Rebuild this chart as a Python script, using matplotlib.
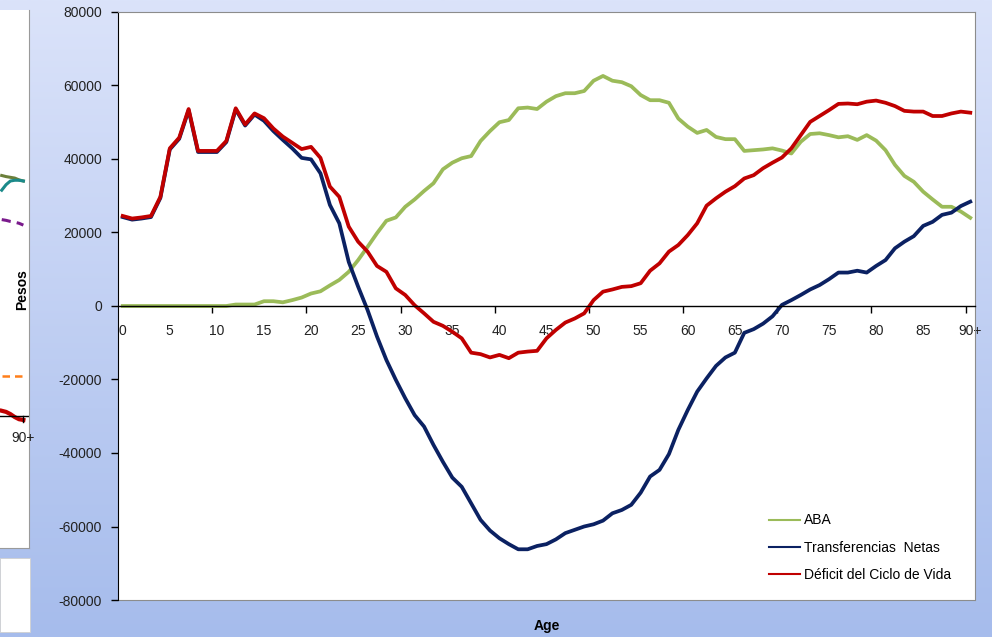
import numpy as np
import matplotlib
matplotlib.use("Agg")
from matplotlib import pyplot as plt
from matplotlib.colors import LinearSegmentedColormap
from matplotlib.lines import Line2D
from matplotlib.patches import Rectangle

plt.rcParams['font.family'] = ['Liberation Sans', 'DejaVu Sans']
plt.rcParams['axes.unicode_minus'] = False

ages = list(range(91))
age_labels = [str(a) for a in range(0, 90, 5)] + ['90+']

aba = [0, 0, 0, 0, 0, 0, 0, 0, 0, 0, 0, 0,
       400, 400, 400, 1300, 1300, 1000, 1600, 2300, 3400, 4000,
       5600, 7100, 9300, 12500, 16100, 19800, 23200, 24100, 27000, 29000,
       31300, 33400, 37200, 39000, 40200, 40800, 44900, 47600, 50000, 50600,
       53800, 54000, 53600, 55600, 57100, 57900, 57900, 58500, 61300, 62600,
       61300, 60900, 59800, 57400, 56000, 56000, 55300, 51000, 48800, 47100,
       47900, 46000, 45400, 45400, 42200, 42400, 42600, 42900, 42300, 41500,
       44700, 46800, 47000, 46500, 45900, 46200, 45200, 46500, 45000, 42400,
       38400, 35400, 33800, 31100, 29000, 27000, 27000, 25700, 24000]

transferencias = [24200, 23500, 23800, 24200, 29400, 42600, 45500, 53300, 41900, 41900,
                  41900, 44600, 53500, 49100, 52100, 50400, 47600, 45200, 42900, 40300,
                  39900, 36100, 27500, 22500, 12000, 5250, -1100, -8300, -14700, -20100,
                  -25100, -29700, -32800, -37800, -42400, -46700, -49200, -53700, -58200, -61100,
                  -63200, -64800, -66200, -66200, -65300, -64800, -63500, -61800, -60900, -60000,
                  -59400, -58400, -56400, -55500, -54100, -50800, -46400, -44600, -40300, -33700,
                  -28300, -23300, -19700, -16300, -14000, -12700, -7300, -6300, -4800, -2800,
                  300, 1600, 3000, 4500, 5700, 7300, 9100, 9100, 9600, 9100,
                  10900, 12500, 15700, 17500, 19000, 21800, 22900, 24800, 25400, 27200,
                  28400]

deficit = [24500, 23800, 24100, 24500, 29700, 42900, 45800, 53600, 42200, 42200,
           42200, 44900, 53800, 49400, 52400, 51100, 48300, 46100, 44400, 42700,
           43300, 40300, 32500, 29700, 21600, 17500, 14800, 10900, 9300, 4800,
           3000, 200, -2000, -4300, -5400, -7000, -8800, -12700, -13100, -14000,
           -13300, -14200, -12700, -12400, -12200, -8800, -6500, -4500, -3400, -2000,
           1600, 3900, 4500, 5200, 5400, 6200, 9600, 11600, 14800, 16600,
           19300, 22500, 27300, 29300, 31100, 32600, 34700, 35600, 37500, 39000,
           40400, 42900, 46500, 50100, 51700, 53300, 55000, 55100, 54900, 55600,
           55900, 55300, 54400, 53100, 52900, 52900, 51700, 51700, 52400, 52900,
           52600]

# cut-off neighbour chart on the left edge
left_ages = [85, 86, 87, 88, 89, 90]
left_olive = [35500, 35200, 35000, 34800, 34300, 34000]
left_teal = [31500, 33000, 34000, 34200, 34200, 34000]
left_purple = [23500, 23300, 23000, 22800, 22500, 22000]
left_orange = [-19000, -19000, -19000, -19000, -19000, -19000]
left_red = [-28500, -28800, -29400, -30200, -30800, -31000]

green = '#9bbb59'
navy = '#0b2162'
red = '#c00000'

W, H = 992, 637
fig = plt.figure(figsize=(W / 100, H / 100), dpi=100)

# background gradient
bg = fig.add_axes([0, 0, 1, 1], zorder=-10)
cmap = LinearSegmentedColormap.from_list('bg', ['#a6bcec', '#dbe3fa'])
bg.imshow(np.linspace(0, 1, 256).reshape(-1, 1), cmap=cmap, aspect='auto',
          extent=[0, 1, 0, 1], origin='lower')
bg.axis('off')

# main chart
ax = fig.add_axes([118 / W, (H - 600) / H, (975 - 118) / W, 588 / H])
ax.set_facecolor('white')
ax.plot(ages, aba, color=green, lw=2.7, solid_joinstyle='round')
ax.plot(ages, transferencias, color=navy, lw=2.7, solid_joinstyle='round')
ax.plot(ages, deficit, color=red, lw=2.7, solid_joinstyle='round')

ax.set_xlim(-0.5, 90.5)
ax.set_ylim(-80000, 80000)
ax.set_yticks(range(-80000, 80001, 20000))
ax.tick_params(axis='y', length=5, width=1, pad=6.5, labelsize=10, colors='black',
               labelcolor='#222222')

for s in ['top', 'right']:
    ax.spines[s].set_color('#8c8c8c')
    ax.spines[s].set_linewidth(0.8)
ax.spines['left'].set_color('black')
ax.spines['bottom'].set_position(('data', 0))
ax.spines['bottom'].set_color('black')
ax.spines['bottom'].set_linewidth(1)
ax.add_patch(Rectangle((0, 0), 1, 0, transform=ax.transAxes, fill=False,
                       edgecolor='#8c8c8c', lw=0.8, clip_on=False))

ax.set_xticks(np.arange(9.5, 90, 10))
ax.set_xticklabels([])
ax.set_xticks(range(0, 91, 5), minor=True)
ax.set_xticklabels(age_labels, minor=True)
ax.tick_params(axis='x', which='major', length=5, width=1, direction='out')
ax.tick_params(axis='x', which='minor', length=0, pad=13, labelsize=10,
               labelcolor='#222222')

ax.text(0.5, -0.045, 'Age', transform=ax.transAxes, ha='center', va='center',
        fontsize=10, fontweight='bold')

handles = [Line2D([], [], color=green, lw=1.5),
           Line2D([], [], color=navy, lw=1.5),
           Line2D([], [], color=red, lw=1.5)]
ax.legend(handles, ['ABA', 'Transferencias  Netas', 'Déficit del Ciclo de Vida'],
          loc='center left', bbox_to_anchor=(0.745, 0.089), frameon=False,
          fontsize=10, handlelength=2.2, handletextpad=0.3, labelspacing=0.95)

# left cut-off panel
lp = fig.add_axes([0, (H - 548) / H, 29 / W, 538 / H])
lp.set_facecolor('white')
lp.set_xlim(84.6, 91.3)
lp.set_ylim((306 - 548) * 272, (306 - 10) * 272)
lp.plot(left_ages, left_olive, color='#6b7f3a', lw=2.2)
lp.plot(left_ages, left_teal, color='#1b8a8a', lw=2.2)
lp.plot(left_ages, left_purple, color='#7a1a8c', lw=2.2, ls=(0, (3, 2)))
lp.plot(left_ages, left_orange, color='#ff7f1a', lw=1.8, ls=(0, (3, 2)))
lp.plot(left_ages, left_red, color=red, lw=3)
lp.axhline(-30000, color='black', lw=1)
lp.plot([90, 90], [-30000, -31500], color='black', lw=1)
lp.set_xticks([])
lp.set_yticks([])
for s in ['left', 'top']:
    lp.spines[s].set_visible(False)
for s in ['right', 'bottom']:
    lp.spines[s].set_color('#9a9a9a')
lp.text(90, -36000, '90+', ha='center', va='center', fontsize=10, color='#222222')

fig.patches.append(Rectangle((0, (H - 632) / H), 30 / W, 74 / H,
                             transform=fig.transFigure, facecolor='white',
                             edgecolor='#d0d0d0', lw=0.6))

fig.text(22 / W, (H - 290) / H, 'Pesos', rotation=90, ha='center', va='center',
         fontsize=10, fontweight='bold')

fig.savefig('out.png', dpi=100)
